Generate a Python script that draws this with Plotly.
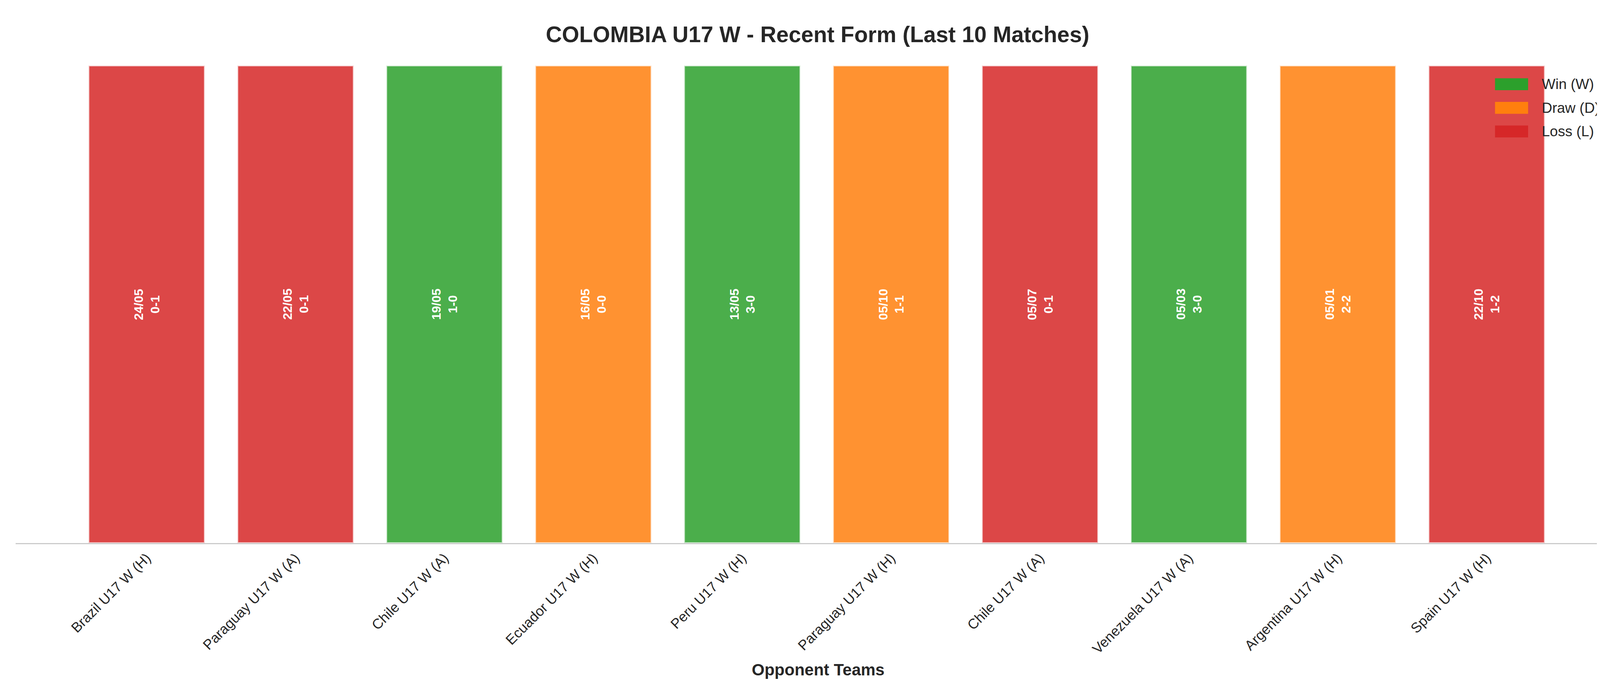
import plotly.graph_objects as go

opponents = ["Brazil U17 W (H)", "Paraguay U17 W (A)", "Chile U17 W (A)", "Ecuador U17 W (H)",
             "Peru U17 W (H)", "Paraguay U17 W (H)", "Chile U17 W (A)", "Venezuela U17 W (A)",
             "Argentina U17 W (H)", "Spain U17 W (H)"]
dates = ["24/05", "22/05", "19/05", "16/05", "13/05", "05/10", "05/07", "05/03", "05/01", "22/10"]
scores = ["0-1", "0-1", "1-0", "0-0", "3-0", "1-1", "0-1", "3-0", "2-2", "1-2"]
results = ["L", "L", "W", "D", "W", "D", "L", "W", "D", "L"]
bar_height = [1] * 10

colors = {"W": "#2ca02c", "D": "#ff7f0e", "L": "#d62728"}
names = {"W": "Win (W)", "D": "Draw (D)", "L": "Loss (L)"}
font = "Liberation Sans, Arial, sans-serif"

xs = list(range(len(opponents)))
fig = go.Figure()
fig.add_trace(go.Bar(
    x=xs, y=bar_height, width=0.78,
    marker=dict(color=[colors[r] for r in results], opacity=0.85,
                line=dict(color="rgba(255,255,255,0.7)", width=4)),
    showlegend=False, hoverinfo="skip",
))

for i, (d, s) in enumerate(zip(dates, scores)):
    fig.add_annotation(x=i, y=0.5, text=f"<b>{d}<br>{s}</b>", textangle=-90, showarrow=False,
                       font=dict(color="white", size=32, family=font))

# legend drawn by hand (plotly bar legend swatches are tiny)
for k, r in enumerate(["W", "D", "L"]):
    yc = 0.961 - k * 0.0495
    fig.add_shape(type="rect", xref="paper", yref="paper", x0=0.9217, x1=0.9423,
                  y0=yc - 0.0125, y1=yc + 0.0125, fillcolor=colors[r], line_width=0)
    fig.add_annotation(xref="paper", yref="paper", x=0.9503, y=yc, text=names[r], showarrow=False,
                       xanchor="left", yanchor="middle", font=dict(size=37, color="#262626", family=font))

fig.update_layout(
    width=4170, height=1770,
    paper_bgcolor="white", plot_bgcolor="white",
    margin=dict(l=32, r=29, t=160, b=387),
    title=dict(text="<b>COLOMBIA U17 W - Recent Form (Last 10 Matches)</b>", x=0.5, xanchor="center",
               y=0.955, yanchor="middle", font=dict(size=57, color="#262626", family=font)),
    font=dict(family=font, color="#262626"),
    xaxis=dict(tickmode="array", tickvals=xs, ticktext=opponents, tickangle=-45,
               range=[-0.88, 9.9], showgrid=False, showline=True, linecolor="#cccccc", linewidth=3,
               tickfont=dict(size=36), ticks="",
               title=dict(text="<b>Opponent Teams</b>", font=dict(size=42), standoff=20)),
    yaxis=dict(range=[0, 1.0], visible=False),
    showlegend=False,
    barmode="overlay",
)
fig.write_html("out.html")
